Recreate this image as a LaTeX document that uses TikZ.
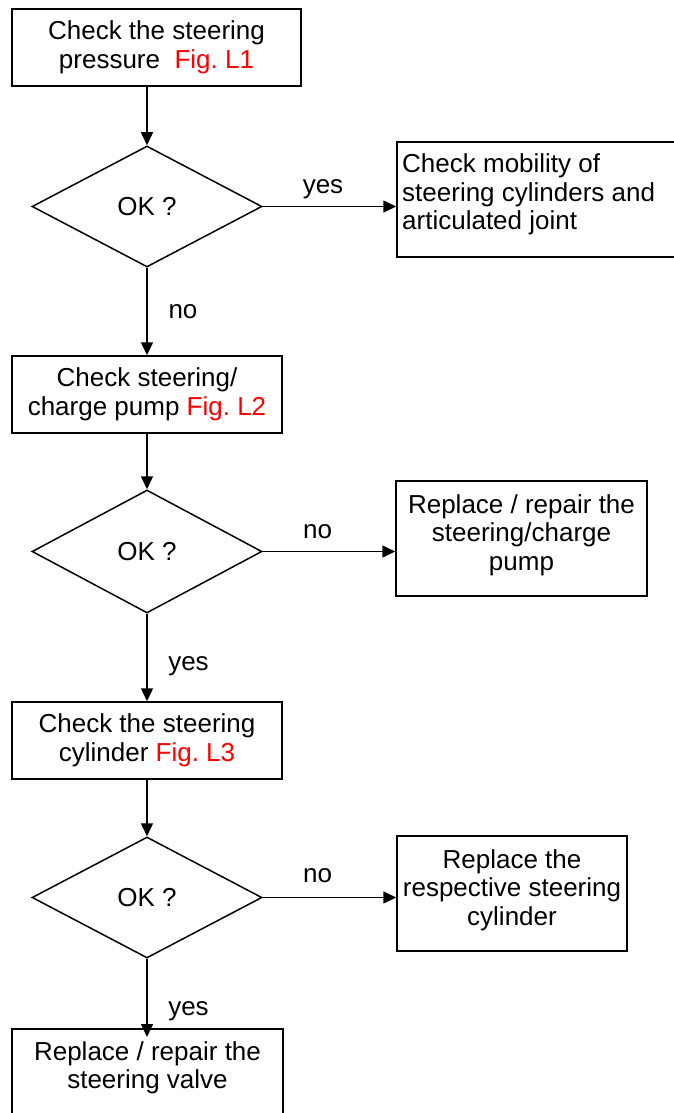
\documentclass[tikz,border=0pt]{standalone}
\usepackage{fontspec}
\setmainfont{Liberation Sans}
\usetikzlibrary{arrows.meta,shapes.geometric}
\definecolor{figred}{RGB}{255,0,0}
\newcommand{\figref}[1]{\textcolor{figred}{#1}}
\frenchspacing
\begin{document}
\begin{tikzpicture}[x=1pt,y=-1pt,
  txt/.style={font=\fontsize{26}{28.5}\selectfont, inner sep=0pt},
  box/.style={draw, line width=1.5pt, rectangle, inner sep=0pt, align=center, txt},
  dec/.style={draw, line width=1.5pt, diamond, inner sep=0pt, aspect=1.9, txt},
  lab/.style={txt},
  arr/.style={line width=1.5pt, -{Triangle[length=13pt,width=12pt]}}]
\useasboundingbox (0,0) rectangle (674,1113);

% left column boxes
\node[box, minimum width=289pt, minimum height=77pt] (b1) at (156.5,47.5)
  {Check the steering\\pressure\ \ \figref{Fig. L1}};
\node[box, minimum width=270pt, minimum height=77pt] (b2) at (147,394.5)
  {Check steering/\\charge pump \figref{Fig. L2}};
\node[box, minimum width=270pt, minimum height=77pt] (b3) at (147,740.5)
  {Check the steering\\cylinder \figref{Fig. L3}};
\node[box, minimum width=271pt, minimum height=101pt] (b4) at (147.5,1079.5) {};
\node[txt, align=center, anchor=north] (b4t) at (147.5,1041)
  {Replace / repair the\\steering valve};

% decisions
\node[dec, minimum width=230pt, minimum height=121pt] (d1) at (147,206.5) {OK ?};
\node[dec, minimum width=230pt, minimum height=123pt] (d2) at (147,551.5) {OK ?};
\node[dec, minimum width=230pt, minimum height=121pt] (d3) at (147,897.5) {OK ?};

% right boxes
\node[box, minimum width=303pt, minimum height=115pt] (r1) at (548.5,199.5) {};
\node[txt, align=left, anchor=north west] (r1t) at (402,153.5)
  {Check mobility of\\steering cylinders and\\articulated joint};
\node[box, minimum width=251pt, minimum height=115pt] (r2) at (521.5,538.5) {};
\node[txt, align=center, anchor=north] (r2t) at (521.5,494)
  {Replace / repair the\\steering/charge\\pump};
\node[box, minimum width=230pt, minimum height=115pt] (r3) at (512,893.5) {};
\node[txt, align=center, anchor=north] (r3t) at (512,849)
  {Replace the\\respective steering\\cylinder};

% connectors
\draw[arr] (b1.south -| d1.north) -- (d1.north);
\draw[arr] (d1.east) -- (d1.east -| r1.west);
\draw[arr] (d1.south) -- (b2.north);
\draw[arr] (b2.south) -- (d2.north);
\draw[arr] (d2.east) -- (d2.east -| r2.west);
\draw[arr] (d2.south) -- (b3.north);
\draw[arr] (b3.south) -- (d3.north);
\draw[arr] (d3.east) -- (d3.east -| r3.west);
\coordinate (e4) at (147,1037);
\draw[arr] (d3.south) -- (e4);

% labels
\node[lab] (l1) at (323,189.5) {yes};
\node[lab] (l2) at (183,312) {no};
\node[lab] (l3) at (317.5,531.5) {no};
\node[lab] (l4) at (188.5,666) {yes};
\node[lab] (l5) at (317.5,876) {no};
\node[lab] (l6) at (188.5,1011) {yes};
\end{tikzpicture}
\end{document}
